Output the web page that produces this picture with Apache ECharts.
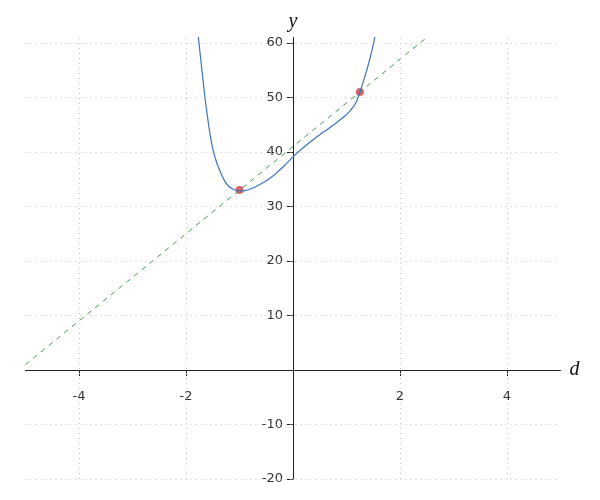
<!DOCTYPE html>
<html><head><meta charset="utf-8">
<script src="https://cdn.jsdelivr.net/npm/echarts@6/dist/echarts.min.js"></script>
<style>html,body{margin:0;padding:0;background:#fff}#c{width:600px;height:500px}</style>
</head><body><div id="c"></div>
<script>
// Data
const xTicks = [-4, -2, 2, 4];
const yTicks = [-20, -10, 10, 20, 30, 40, 50, 60];
const xGrid = [-4, -2, 2, 4];
const yGrid = [-20, -10, 10, 20, 30, 40, 50, 60];
const curveD = [-1.775, -1.768, -1.757, -1.700, -1.645, -1.600, -1.551, -1.495, -1.450, -1.396, -1.330, -1.271, -1.200, -1.116, -1.050, -0.970, -0.900, -0.800, -0.700, -0.555, -0.400, -0.243, -0.120, 0, 0.15, 0.35, 0.50, 0.66, 0.82, 0.97, 1.05, 1.12, 1.17, 1.209, 1.252, 1.30, 1.35, 1.407, 1.46, 1.50, 1.52, 1.535, 1.55];
const curveY = [61.7, 61.0, 60.0, 54.8, 50.0, 46.6, 43.3, 40.4, 38.8, 37.25, 35.75, 34.6, 33.7, 33.15, 32.93, 32.85, 32.9, 33.2, 33.62, 34.4, 35.4, 36.73, 37.9, 39.1, 40.45, 42.05, 43.15, 44.27, 45.42, 46.6, 47.36, 48.2, 48.95, 49.81, 51.0, 52.45, 54.05, 56.0, 58.0, 59.7, 60.66, 61.5, 62.4];
const lineD = [-5, 2.5];
const lineY = [1, 61];
const pointD = [-1, 1.25];
const pointY = [33, 51];

const X_MIN = -5, X_MAX = 5, Y_MIN = -20, Y_MAX = 61;
const G = {left: 25.5, right: 39.5, top: 37.5, bottom: 21};
const W = 600, H = 500;
const gw = W - G.left - G.right, gh = H - G.top - G.bottom;
// axes cross at zero: shift them inward from grid edges
const xOffset = -((0 - Y_MIN) / (Y_MAX - Y_MIN)) * gh;
const yOffset = -((0 - X_MIN) / (X_MAX - X_MIN)) * gw;

const zip = (a, b) => a.map((v, i) => [v, b[i]]);
const chart = echarts.init(document.getElementById('c'), null, {renderer: 'canvas'});
const labelStyle = {color: '#333', fontSize: 13, fontFamily: 'DejaVu Sans'};
const gridStyle = {color: '#c4c4c4', type: [1, 4], width: 1};
chart.setOption({
  animation: false,
  grid: Object.assign({containLabel: false, outerBoundsMode: 'none'}, G),
  xAxis: {
    type: 'value', min: X_MIN, max: X_MAX, position: 'bottom', offset: xOffset,
    name: 'd', nameLocation: 'end', nameGap: 9,
    nameTextStyle: {fontFamily: 'Liberation Serif', fontStyle: 'italic', fontSize: 20, color: '#111', verticalAlign: 'middle', padding: [6, 0, 0, 0]},
    axisLine: {onZero: false, lineStyle: {color: '#222', width: 1}},
    axisTick: {show: true, length: 6, customValues: xTicks, lineStyle: {color: '#222'}},
    axisLabel: Object.assign({customValues: xTicks, margin: 20}, labelStyle),
    splitLine: {show: false}
  },
  yAxis: {
    type: 'value', min: Y_MIN, max: Y_MAX, position: 'left', offset: yOffset,
    name: 'y', nameLocation: 'end', nameGap: 6,
    nameTextStyle: {fontFamily: 'Liberation Serif', fontStyle: 'italic', fontSize: 20, color: '#111', align: 'center'},
    axisLine: {onZero: false, lineStyle: {color: '#222', width: 1}},
    axisTick: {show: true, length: 6, customValues: yTicks, lineStyle: {color: '#222'}},
    axisLabel: Object.assign({customValues: yTicks, margin: 10}, labelStyle),
    splitLine: {show: false}
  },
  series: [
    {type: 'line', data: [], silent: true,
     markLine: {silent: true, symbol: ['none', 'none'], label: {show: false}, lineStyle: gridStyle, animation: false,
       data: xGrid.map(v => ({xAxis: v})).concat(yGrid.map(v => ({yAxis: v})))}},
    {type: 'line', data: zip(lineD, lineY), showSymbol: false, silent: true,
     lineStyle: {color: '#3f9c4c', width: 1, type: [5, 5]}},
    {type: 'line', data: zip(curveD, curveY), showSymbol: false, smooth: 0.5, clip: true,
     lineStyle: {color: '#3a74c0', width: 1.2}},
    {type: 'scatter', data: zip(pointD, pointY), symbolSize: 8,
     itemStyle: {color: '#cc4040'}}
  ]
});
</script></body></html>
